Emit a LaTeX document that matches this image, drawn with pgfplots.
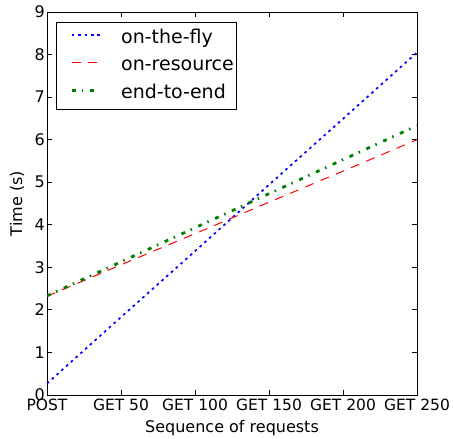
\documentclass[border=0pt]{standalone}
\usepackage{fontspec}
\setmainfont{DejaVu Sans}
\usepackage{pgfplots}
\pgfplotsset{compat=1.18}

\definecolor{mplgreen}{rgb}{0,0.5,0}

\begin{document}
\begin{tikzpicture}[font=\fontsize{15.5}{18}\selectfont]
\begin{axis}[
  width=370pt, height=383pt, scale only axis,
  xmin=0, xmax=250, ymin=0, ymax=9,
  xtick={0,50,100,150,200,250},
  xticklabels={POST, GET 50, GET 100, GET 150, GET 200, GET 250},
  ytick={0,1,...,9},
  tick align=inside, major tick length=5pt,
  tick style={black, line width=0.8pt},
  axis line style={line width=0.9pt},
  /pgf/number format/assume math mode=true,
  xticklabel style={inner sep=1pt, yshift=-3pt},
  yticklabel style={inner sep=2pt, font=\fontsize{16}{19}\selectfont},
  xlabel={Sequence of requests}, ylabel={Time (s)},
  label style={font=\fontsize{16}{19}\selectfont},
  xlabel style={at={(axis description cs:0.5,-0.0966)}, anchor=base},
  ylabel style={at={(axis description cs:-0.081,0.5)}, anchor=center},
  legend cell align=left,
  legend style={at={(0.024,0.974)}, anchor=north west,
    font=\fontsize{19}{22}\selectfont, line width=0.9pt,
    inner xsep=3pt, inner ysep=7pt, row sep=9.5pt, column sep=0pt,
    nodes={inner sep=0pt, text height=14pt, text depth=4pt}},
  legend image code/.code={\path (0pt,0pt); \draw[#1] (11pt,0.33em) -- (39pt,0.33em);},
]
\addplot[blue, line width=1.7pt, dash pattern=on 2.6pt off 3.8pt,
  legend image post style={blue, line width=1.7pt}] coordinates {
  (0,0.27) (50,1.83) (100,3.38) (150,4.94) (200,6.49) (250,8.05)};
\addlegendentry{\hspace{20pt}on-the-fly}
\addplot[red, line width=1pt, dash pattern=on 9pt off 7.5pt,
  legend image post style={red, line width=1pt}] coordinates {
  (0,2.32) (50,3.06) (100,3.79) (150,4.53) (200,5.26) (250,6.00)};
\addlegendentry{\hspace{20pt}on-resource}
\addplot[mplgreen, line width=2.8pt, dash pattern=on 4pt off 6pt on 1.5pt off 7pt,
  legend image post style={mplgreen, line width=2.8pt}] coordinates {
  (0,2.33) (50,3.13) (100,3.93) (150,4.73) (200,5.53) (250,6.33)};
\addlegendentry{\hspace{20pt}end-to-end}
\end{axis}
\path ([shift={(-47pt,12pt)}]current axis.north west) rectangle ([shift={(37pt,-43pt)}]current axis.south east);
\end{tikzpicture}
\end{document}
